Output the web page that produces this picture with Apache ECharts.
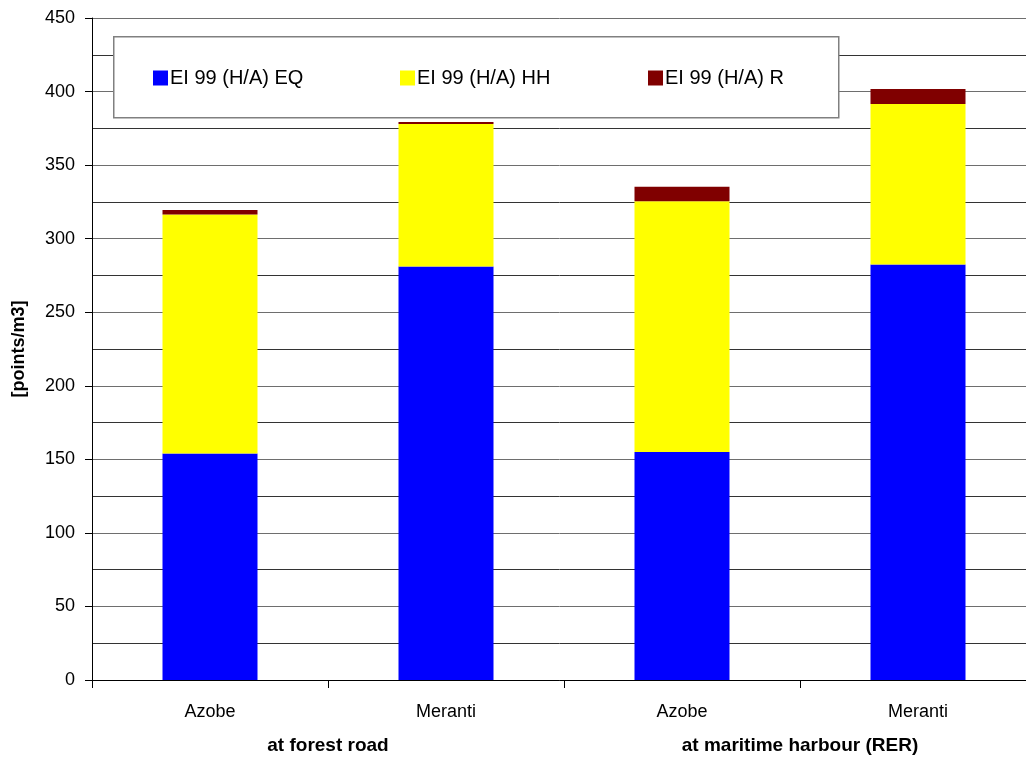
<!DOCTYPE html>
<html>
<head>
<meta charset="utf-8">
<script src="https://cdn.jsdelivr.net/npm/echarts@6/dist/echarts.min.js"></script>
<style>
html,body{margin:0;padding:0;background:#fff;}
#chart{width:1026px;height:757px;}
</style>
</head>
<body>
<div id="chart"></div>
<script>
var categories = ['Azobe', 'Meranti', 'Azobe', 'Meranti'];
var groups = ['at forest road', 'at maritime harbour (RER)'];
var seriesNames = ['EI 99 (H/A) EQ', 'EI 99 (H/A) HH', 'EI 99 (H/A) R'];
var eqValues = [154, 281, 155, 282.5];
var hhValues = [162.5, 97, 170.5, 109];
var rValues = [3, 1.3, 9.8, 10.2];
var colors = ['#0000FF', '#FFFF00', '#800000'];

var chart = echarts.init(document.getElementById('chart'));
var font = 'Arial, "Liberation Sans", sans-serif';

function legendAt(name, left) {
  return {
    data: [name],
    left: left,
    top: 68,
    z: 20,
    itemWidth: 15,
    itemHeight: 15,
    itemGap: 0,
    padding: 0,
    icon: 'rect',
    textStyle: { fontFamily: font, fontSize: 20, color: '#000', padding: [0, 0, 0, -3] },
    selectedMode: false
  };
}

var option = {
  animation: false,
  backgroundColor: '#fff',
  textStyle: { fontFamily: font },
  grid: { left: 92, width: 944, top: 18, bottom: 77, containLabel: false, outerBoundsMode: 'none' },
  graphic: [{
    type: 'rect',
    left: 113, top: 36,
    shape: { width: 725, height: 81 },
    style: { fill: '#fff', stroke: '#808080', lineWidth: 1.5 },
    z: 3
  }],
  legend: [
    legendAt(seriesNames[0], 153),
    legendAt(seriesNames[1], 400),
    legendAt(seriesNames[2], 648)
  ],
  xAxis: [{
    type: 'category',
    data: categories,
    position: 'bottom',
    axisLine: { show: true, lineStyle: { color: '#000', width: 1 } },
    axisTick: { show: true, length: 8, lineStyle: { color: '#000' } },
    axisLabel: { fontFamily: font, fontSize: 18, color: '#000', margin: 23 }
  }, {
    type: 'category',
    data: groups,
    position: 'bottom',
    offset: 0,
    axisLine: { show: false },
    axisTick: { show: false },
    axisLabel: { fontFamily: font, fontSize: 19, fontWeight: 'bold', color: '#000', margin: 56 }
  }],
  yAxis: {
    type: 'value',
    min: 0, max: 450, interval: 50,
    name: '[points/m3]',
    nameLocation: 'middle',
    nameGap: 64,
    nameTextStyle: { fontFamily: font, fontSize: 18, fontWeight: 'bold', color: '#000' },
    axisLine: { show: true, lineStyle: { color: '#000', width: 1 } },
    axisTick: { show: true, length: 7, lineStyle: { color: '#000' } },
    axisLabel: { fontFamily: font, fontSize: 18, color: '#000', margin: 17 },
    splitLine: { show: true, lineStyle: { color: '#6e6e6e', width: 1 } },
    minorTick: { show: false, splitNumber: 2 },
    minorSplitLine: { show: true, lineStyle: { color: '#333', width: 1 } }
  },
  series: [
    { name: seriesNames[0], type: 'bar', stack: 'total', data: eqValues, barWidth: 95, itemStyle: { color: colors[0] }, xAxisIndex: 0 },
    { name: seriesNames[1], type: 'bar', stack: 'total', data: hhValues, barWidth: 95, itemStyle: { color: colors[1] }, xAxisIndex: 0 },
    { name: seriesNames[2], type: 'bar', stack: 'total', data: rValues, barWidth: 95, itemStyle: { color: colors[2] }, xAxisIndex: 0 }
  ]
};
chart.setOption(option);
</script>
</body>
</html>
